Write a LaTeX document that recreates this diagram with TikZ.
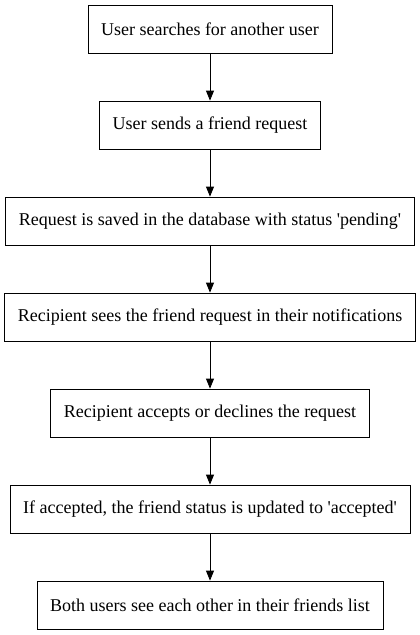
\documentclass[tikz,border=0pt]{standalone}
\usepackage{fontspec}
\setmainfont{Liberation Serif}
\usetikzlibrary{arrows.meta}
\usetikzlibrary{positioning}

\begin{document}
\begin{tikzpicture}[node distance=96pt,auto,->,>={Triangle[length=10pt,width=8pt]},
    stepbox/.style={draw,line width=0.8pt,rectangle,minimum height=48pt,inner xsep=13pt,font=\fontsize{18pt}{20pt}\selectfont}]
    \useasboundingbox (0,0) rectangle (420pt,-635pt);
    \node[stepbox] (s_1) at (210pt,-29pt) {User searches for another user};
    \node[stepbox] (s_2) [below of=s_1] {User sends a friend request};
    \node[stepbox] (s_3) [below of=s_2] {Request is saved in the database with status \textquotesingle pending\textquotesingle};
    \node[stepbox] (s_4) [below of=s_3] {Recipient sees the friend request in their notifications};
    \node[stepbox] (s_5) [below of=s_4] {Recipient accepts or declines the request};
    \node[stepbox] (s_6) [below of=s_5] {If accepted, the friend status is updated to \textquotesingle accepted\textquotesingle};
    \node[stepbox] (s_7) [below of=s_6] {Both users see each other in their friends list};
    \path[->,line width=0.8pt] (s_1) edge (s_2)
              (s_2) edge (s_3)
              (s_3) edge (s_4)
              (s_4) edge (s_5)
              (s_5) edge (s_6)
              (s_6) edge (s_7);
\end{tikzpicture}
\end{document}
